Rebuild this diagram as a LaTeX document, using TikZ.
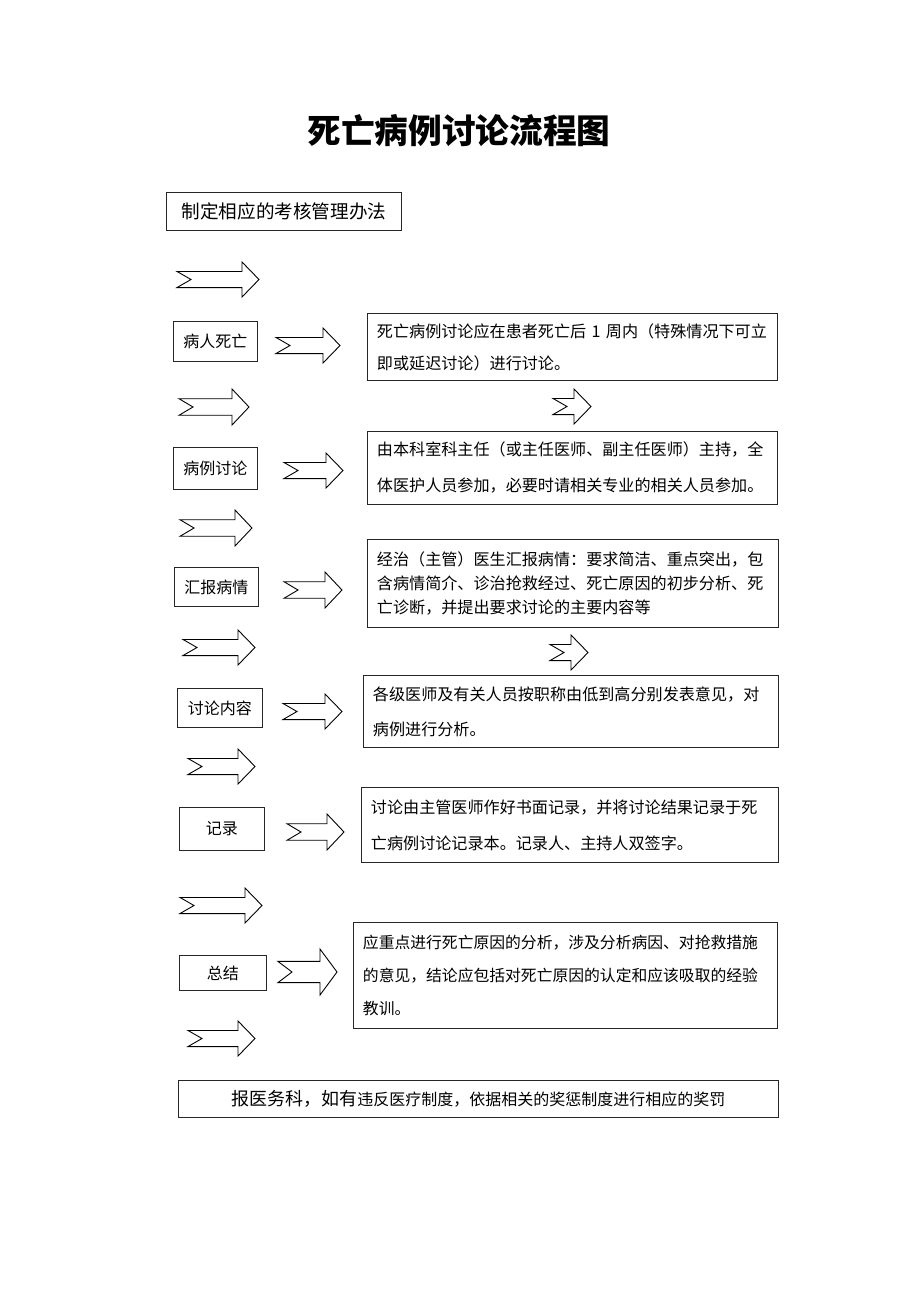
\documentclass[tikz,border=0pt]{standalone}
\usepackage{fontspec}
\newfontfamily\cjk{Noto Sans CJK SC}
\tikzset{
  box/.style={draw=black!85, line width=0.9pt, anchor=north west, inner sep=0pt,
    font=\cjk\fontsize{16}{16}\selectfont},
  rbox/.style={draw=black!85, line width=0.9pt, anchor=north west, inner xsep=9.5pt,
    inner ysep=0pt, align=left},
  arr/.style={draw=black, line width=0.9pt, fill=white, line join=miter},
}
\newcommand{\harrow}[4]{%
  \pgfmathsetmacro\ai{0.27*(#4-#3)}%
  \pgfmathsetmacro\ym{(#3+#4)/2}%
  \pgfmathsetmacro\xh{#2-17}%
  \pgfmathsetmacro\xn{#1+14}%
  \draw[arr] (#1,#3+\ai) -- (\xh,#3+\ai) -- (\xh,#3) -- (#2,\ym) -- (\xh,#4)
    -- (\xh,#4-\ai) -- (#1,#4-\ai) -- (\xn,\ym) -- cycle;}
\begin{document}
\begin{tikzpicture}[x=1pt,y=-1pt]
\useasboundingbox[fill=white] (0,0) rectangle (920,1302);

% title
\node[font=\cjk\bfseries\fontsize{33.7}{34}\selectfont] (title) at (459,131) {死亡病例讨论流程图};

% top box
\node[box, minimum width=235, minimum height=38, font=\cjk\fontsize{18.6}{19}\selectfont]
  (b0) at (166,192) {制定相应的考核管理办法};

% left boxes
\node[box, minimum width=84, minimum height=40] (l1) at (173,321) {病人死亡};
\node[box, minimum width=84, minimum height=42] (l2) at (173,447) {病例讨论};
\node[box, minimum width=84, minimum height=39] (l3) at (174,567) {汇报病情};
\node[box, minimum width=85, minimum height=39] (l4) at (177,688) {讨论内容};
\node[box, minimum width=85, minimum height=43] (l5) at (179,807) {记录};
\node[box, minimum width=87, minimum height=35] (l6) at (179,955) {总结};

% right boxes
\node[rbox, text width=391, minimum height=67, font=\cjk\fontsize{16.1}{32}\selectfont]
  (r1) at (367,313) {死亡病例讨论应在患者死亡后 1 周内（特殊情况下可立\\即或延迟讨论）进行讨论。};
\node[rbox, text width=391, minimum height=73, font=\cjk\fontsize{16.1}{36}\selectfont]
  (r2) at (367,431) {由本科室科主任（或主任医师、副主任医师）主持，全\\体医护人员参加，必要时请相关专业的相关人员参加。};
\node[rbox, text width=392, minimum height=88, font=\cjk\fontsize{16.1}{24}\selectfont]
  (r3) at (367,539) {经治（主管）医生汇报病情：要求简洁、重点突出，包\\含病情简介、诊治抢救经过、死亡原因的初步分析、死\\亡诊断，并提出要求讨论的主要内容等};
\node[rbox, text width=396, minimum height=72, font=\cjk\fontsize{16.1}{35}\selectfont]
  (r4) at (363,675) {各级医师及有关人员按职称由低到高分别发表意见，对\\病例进行分析。};
\node[rbox, text width=398, minimum height=75, font=\cjk\fontsize{16.1}{36}\selectfont]
  (r5) at (361,787) {讨论由主管医师作好书面记录，并将讨论结果记录于死\\亡病例讨论记录本。记录人、主持人双签字。};
\node[rbox, text width=405, minimum height=106, font=\cjk\fontsize{15.8}{33}\selectfont]
  (r6) at (353,922) {应重点进行死亡原因的分析，涉及分析病因、对抢救措施\\的意见，结论应包括对死亡原因的认定和应该吸取的经验\\教训。};

% final box
\node[box, minimum width=600, minimum height=37, font=\cjk]
  (fin) at (178,1080) {{\fontsize{18}{18}\selectfont 报医务科，如有}{\fontsize{16}{16}\selectfont 违反医疗制度，依据相关的奖惩制度进行相应的奖罚}};

% left column arrows
\harrow{177}{259}{262}{297}
\harrow{179}{249}{389}{425}
\harrow{180}{252}{510}{546}
\harrow{183}{255}{630}{665}
\harrow{188}{255}{749}{784}
\harrow{180}{262}{888}{923}
\harrow{188}{255}{1021}{1056}

% middle arrows
\harrow{276}{340}{328}{363}
\harrow{284}{343}{453}{488}
\harrow{284}{342}{572}{608}
\harrow{283}{342}{694}{729}
\harrow{287}{344}{814}{850}
\harrow{278}{337}{949}{995}

% small arrows between right boxes
\harrow{553}{591}{389}{424}
\harrow{550}{588}{635}{670}
\end{tikzpicture}
\end{document}
